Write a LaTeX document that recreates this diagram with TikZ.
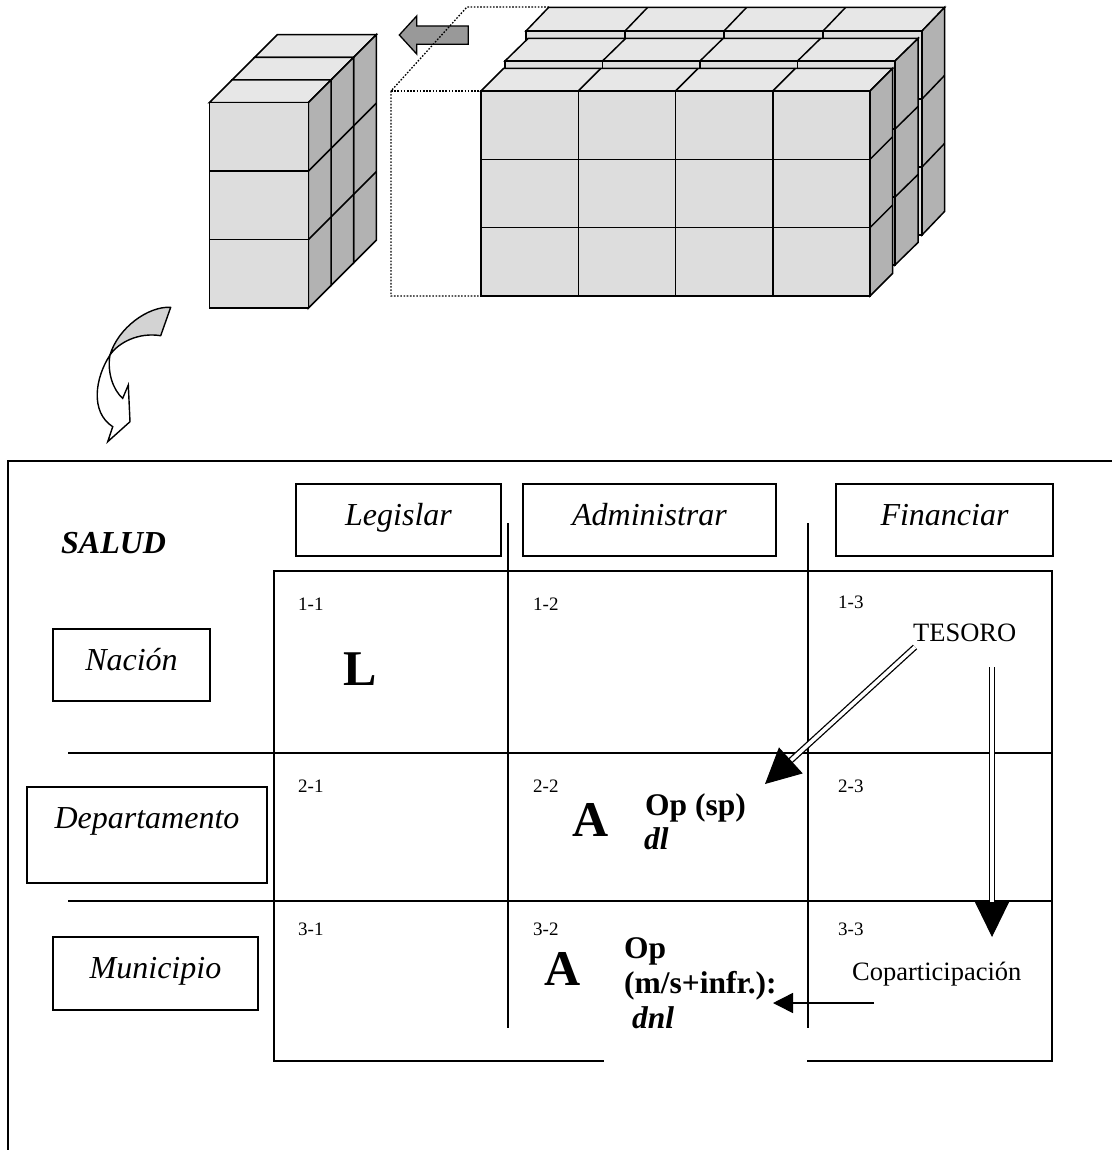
\documentclass[tikz,border=0pt]{standalone}
\usepackage{fontspec}
\setmainfont{Liberation Serif}
\usetikzlibrary{arrows.meta,calc}

\definecolor{cubefront}{RGB}{221,221,221}
\definecolor{cubetop}{RGB}{231,231,231}
\definecolor{cubeside}{RGB}{178,178,178}
\definecolor{blockgray}{RGB}{153,153,153}
\definecolor{bendgray}{RGB}{211,211,211}

% One slab of cubes seen in oblique view:
% #1 left x, #2 top y, #3 width, #4 height, #5 columns, #6 rows, #7/#8 depth shift
\newcommand{\cubeslab}[8]{%
  \filldraw[cubeline, fill=cubetop] (#1,#2) -- ++(#7,#8) -- ++(#3,0) -- ++({-1*(#7)},{-1*(#8)}) -- cycle;
  \filldraw[cubeline, fill=cubeside] ({#1+#3},#2) -- ++(#7,#8) -- ++(0,#4) -- ++({-1*(#7)},{-1*(#8)}) -- cycle;
  \filldraw[cubeline, fill=cubefront] (#1,#2) rectangle ++(#3,#4);
  \pgfmathtruncatemacro\slabcm{#5-1}%
  \ifnum\slabcm>0
    \foreach \i in {1,...,\slabcm} {
      \draw[cubeline] ({#1+\i*#3/#5},#2) -- ++(0,#4);
      \draw[cubeline] ({#1+\i*#3/#5},#2) -- ++(#7,#8);
    }%
  \fi
  \pgfmathtruncatemacro\slabrm{#6-1}%
  \ifnum\slabrm>0
    \foreach \j in {1,...,\slabrm} {
      \draw[cubeline] (#1,{#2+\j*#4/#6}) -- ++(#3,0);
      \draw[cubeline] ({#1+#3},{#2+\j*#4/#6}) -- ++(#7,#8);
    }%
  \fi
}

\begin{document}
\begin{tikzpicture}[x=1pt,y=-1pt,
  cubeline/.style={line width=1.5pt, line join=miter},
  rule/.style={line width=1.4pt},
  ghost/.style={line width=1.3pt, dash pattern=on 1.6pt off 1.6pt},
  labelbox/.style={draw, line width=1.3pt, inner sep=0pt,
    font=\fontsize{32}{36}\selectfont\itshape, text height=22pt},
  cellnum/.style={anchor=base west, inner sep=0pt, font=\fontsize{19}{22}\selectfont},
  bigletter/.style={anchor=base west, inner sep=0pt, font=\fontsize{50}{54}\selectfont\bfseries},
  boldnote/.style={anchor=base west, inner sep=0pt, font=\fontsize{31.5}{34}\selectfont\bfseries},
  boldital/.style={anchor=base west, inner sep=0pt, font=\fontsize{31.5}{34}\selectfont\bfseries\itshape},
  plainnote/.style={anchor=base west, inner sep=0pt, font=\fontsize{26.5}{30}\selectfont},
  twinline/.style={double=white, double distance=3.6pt, line width=1.3pt},
]
\useasboundingbox (0,0) rectangle (1112,1150);

% ---- block arrow pointing left ----
\filldraw[line width=1.3pt, fill=blockgray]
  (399.3,35) -- (416.7,16) -- (416.7,26) -- (468.3,26) -- (468.3,44.3)
  -- (416.7,44.3) -- (416.7,54) -- cycle;

% ---- dotted outline of the removed slice ----
\draw[ghost] (549,7) -- (467,7) -- (391,91) -- (391,296) -- (481,296);
\draw[ghost] (391,91) -- (481,91);

% ---- large block: three slabs, back to front ----
\cubeslab{526}{31}{396}{204}{4}{3}{22.5}{-23.5}
\cubeslab{505}{61}{390}{204}{4}{3}{23}{-22.5}
\cubeslab{481}{91}{389}{205}{4}{3}{22.5}{-22.5}

% ---- single column stack, back to front ----
\cubeslab{254.7}{57.3}{99}{205.5}{1}{3}{22.7}{-22.7}
\cubeslab{232}{80}{99}{205.5}{1}{3}{22.7}{-22.7}
\cubeslab{209.3}{102.7}{99}{205.5}{1}{3}{22.7}{-22.7}

% ---- bent arrow ----
\filldraw[line width=1.4pt, fill=bendgray, line join=round]
  (170.7,307.3) .. controls (148,306) and (118,328) .. (110,355)
  .. controls (118,343) and (138,332) .. (160.7,335.7) -- cycle;
\filldraw[line width=1.4pt, fill=white, line join=miter]
  (110,355) .. controls (95,378) and (90,412) .. (112.7,426.7)
  -- (107.7,441.7) -- (130,421.7) -- (128.3,385) -- (122.7,398.3)
  .. controls (113,390) and (107,372) .. (110,355) -- cycle;

% ---- outer frame ----
\draw[rule] (8,1150) -- (8,461) -- (1112,461);

% ---- table ----
\draw[rule] (274,571) rectangle (1052,1061);
\draw[rule] (68,753) -- (1052,753);
\draw[rule] (68,901) -- (1052,901);
\draw[rule] (508,523) -- (508,1028);
\draw[rule] (808,523) -- (808,1028);
\fill[white] (604,940) rectangle (807,1064);

% ---- column headers ----
\node[labelbox, text depth=12pt, minimum width=205pt, minimum height=72pt] (leg) at (398.5,520) {Legislar};
\node[labelbox, text depth=12pt, minimum width=253pt, minimum height=72pt] (adm) at (649.5,520) {Administrar};
\node[labelbox, text depth=12pt, minimum width=217pt, minimum height=72pt] (fin) at (944.5,520) {Financiar};

% ---- row headers ----
\node[labelbox, text depth=12pt, minimum width=157pt, minimum height=72pt] (nac) at (131.5,665) {Nación};
\node[labelbox, text depth=36pt, minimum width=240pt, minimum height=96pt] (dep) at (147,835) {Departamento};
\node[labelbox, text depth=13pt, minimum width=205pt, minimum height=73pt] (mun) at (155.5,973.5) {Municipio};

\node[anchor=base west, inner sep=0pt, font=\fontsize{32}{36}\selectfont\bfseries\itshape] (salud) at (61,553) {SALUD};

% ---- cell numbers ----
\node[cellnum] (c11) at (298,610) {1-1};
\node[cellnum] (c12) at (533,610) {1-2};
\node[cellnum] (c13) at (838,608) {1-3};
\node[cellnum] (c21) at (298,792) {2-1};
\node[cellnum] (c22) at (533,792) {2-2};
\node[cellnum] (c23) at (838,792) {2-3};
\node[cellnum] (c31) at (298,935) {3-1};
\node[cellnum] (c32) at (533,935) {3-2};
\node[cellnum] (c33) at (838,935) {3-3};

% ---- cell contents ----
\node[bigletter] (lL) at (343,685) {L};
\node[bigletter] (aDep) at (572,836) {A};
\node[bigletter] (aMun) at (544,985) {A};
\node[boldnote] (opsp) at (645,815) {Op (sp)};
\node[boldital] (dl) at (644,849) {dl};
\node[boldnote] (op3) at (624,958) {Op};
\node[boldnote] (ms) at (624,993) {(m/s+infr.):};
\node[boldital] (dnl) at (632,1028) {dnl};
\node[plainnote] (tesoro) at (913,641) {TESORO};
\node[plainnote] (copa) at (852,980) {Coparticipación};

% ---- transfers ----
\coordinate (dstart) at (915,647);
\coordinate (dtip) at (765,784);
\draw[twinline] (dstart) -- ($(dtip)!33pt!(dstart)$);
\draw[line width=1pt, -{Triangle[length=35pt,width=35pt]}] ($(dtip)!35pt!(dstart)$) -- (dtip);

\coordinate (vstart) at (992,667);
\coordinate (vtip) at (992,937);
\draw[twinline] (vstart) -- ($(vtip)!33pt!(vstart)$);
\draw[line width=1pt, -{Triangle[length=35pt,width=34pt]}] ($(vtip)!35pt!(vstart)$) -- (vtip);

\coordinate (hstart) at (874,1003);
\coordinate (htip) at (773,1003);
\draw[line width=1.5pt, -{Triangle[length=20pt,width=20pt]}] (hstart) -- (htip);

\end{tikzpicture}
\end{document}
